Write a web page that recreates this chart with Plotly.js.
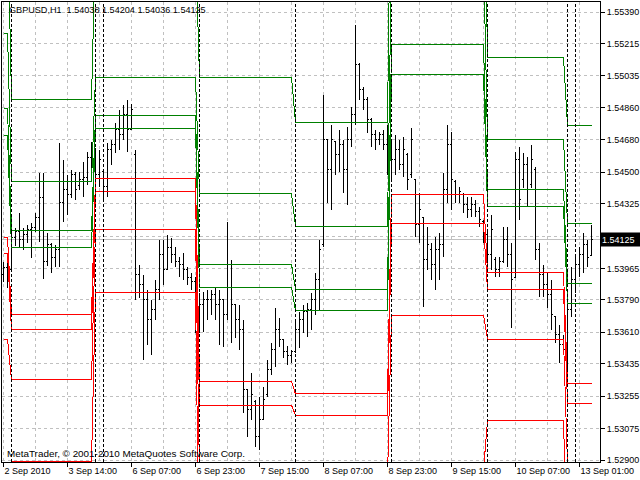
<!DOCTYPE html>
<html>
<head>
<meta charset="utf-8">
<script src="https://cdn.plot.ly/plotly-3.0.1.min.js"></script>
<style>
html,body{margin:0;padding:0;background:#fff;}
#chart{width:640px;height:480px;}
#chart svg path{shape-rendering:crispEdges;}
</style>
</head>
<body>
<div id="chart"></div>
<script>
// ---- data (GBPUSD H1) ----
const symbolName = "GBPUSD,H1";
const barOpen = [1.53929,1.53968,1.53957,1.54135,1.54168,1.54124,1.54151,1.54179,1.54190,1.54246,1.54357,1.54001,1.54096,1.54024,1.54068,1.54329,1.54401,1.54374,1.54485,1.54424,1.54457,1.54468,1.54579,1.54624,1.54485,1.54501,1.54418,1.54624,1.54651,1.54735,1.54707,1.54818,1.54735,1.54596,1.53929,1.53874,1.53790,1.53679,1.53735,1.53846,1.54040,1.53957,1.54079,1.54040,1.54001,1.53985,1.53957,1.53913,1.53890,1.53679,1.53763,1.53790,1.53790,1.53818,1.53763,1.53790,1.53707,1.53985,1.53763,1.53679,1.53624,1.53290,1.53179,1.53224,1.53029,1.53124,1.53263,1.53401,1.53513,1.53624,1.53568,1.53501,1.53479,1.53501,1.53624,1.53679,1.53724,1.53735,1.53790,1.53901,1.54096,1.54679,1.54513,1.54668,1.54596,1.54651,1.54513,1.54679,1.54818,1.55096,1.54957,1.54901,1.54790,1.54707,1.54679,1.54707,1.54651,1.54624,1.54568,1.54624,1.54540,1.54596,1.54485,1.54457,1.54207,1.54246,1.54013,1.54068,1.53985,1.54068,1.54096,1.54401,1.54651,1.54446,1.54374,1.54374,1.54318,1.54290,1.54318,1.54279,1.54224,1.54151,1.54040,1.54013,1.53957,1.54001,1.54124,1.54040,1.53913,1.54568,1.54457,1.54540,1.54429,1.54513,1.54068,1.53929,1.53874,1.53818,1.53696,1.53596,1.53540,1.53513,1.53735,1.53901,1.53985,1.54040,1.54096,1.54038];
const barHigh = [1.54001,1.53996,1.54179,1.54190,1.54274,1.54190,1.54207,1.54218,1.54274,1.54496,1.54496,1.54163,1.54107,1.54096,1.54663,1.54568,1.54485,1.54513,1.54501,1.54501,1.54557,1.54613,1.54668,1.54635,1.54624,1.54513,1.54663,1.54679,1.54774,1.54846,1.54874,1.54901,1.54879,1.54624,1.53985,1.53929,1.53846,1.53790,1.53901,1.54124,1.54124,1.54151,1.54135,1.54085,1.54029,1.54051,1.53974,1.53940,1.53918,1.53829,1.53835,1.53846,1.53846,1.53863,1.53846,1.53790,1.54224,1.54013,1.53763,1.53763,1.53679,1.53290,1.53385,1.53235,1.53251,1.53307,1.53457,1.53551,1.53746,1.53690,1.53568,1.53535,1.53513,1.53679,1.53724,1.53763,1.53774,1.53829,1.53940,1.54124,1.54929,1.54679,1.54763,1.54668,1.54735,1.54679,1.54751,1.54863,1.55318,1.55107,1.54974,1.54918,1.54801,1.54735,1.54724,1.54735,1.54763,1.54679,1.54707,1.54679,1.54696,1.54607,1.54746,1.54457,1.54385,1.54251,1.54196,1.54107,1.54140,1.54163,1.54496,1.54763,1.54724,1.54457,1.54418,1.54385,1.54363,1.54363,1.54346,1.54307,1.54235,1.54179,1.54263,1.54029,1.54029,1.54196,1.54196,1.54107,1.54613,1.54640,1.54607,1.54585,1.54651,1.54529,1.54107,1.53985,1.53946,1.53901,1.53696,1.53651,1.53596,1.53790,1.53974,1.54029,1.54085,1.54163,1.54124,1.54204];
const barLow = [1.53890,1.53857,1.53946,1.54090,1.54085,1.54068,1.54107,1.54024,1.54168,1.54113,1.53907,1.53979,1.53940,1.53974,1.53974,1.54224,1.54263,1.54357,1.54346,1.54401,1.54363,1.54429,1.54474,1.54401,1.54418,1.54346,1.54363,1.54540,1.54607,1.54624,1.54679,1.54613,1.54735,1.53790,1.53801,1.53457,1.53540,1.53485,1.53679,1.53790,1.53874,1.53957,1.53996,1.53974,1.53918,1.53901,1.53874,1.53846,1.53607,1.53607,1.53613,1.53679,1.53707,1.53679,1.53540,1.53529,1.53679,1.53551,1.53579,1.53513,1.53163,1.53029,1.53124,1.52974,1.52957,1.53124,1.53251,1.53374,1.53418,1.53529,1.53468,1.53429,1.53440,1.53496,1.53524,1.53607,1.53585,1.53624,1.53707,1.53735,1.54085,1.54329,1.54290,1.54485,1.54501,1.54385,1.54318,1.54640,1.54763,1.54901,1.54846,1.54718,1.54640,1.54624,1.54651,1.54624,1.54485,1.54457,1.54485,1.54513,1.54474,1.54401,1.54468,1.54140,1.54107,1.53751,1.53957,1.53901,1.53846,1.53901,1.54029,1.54329,1.54290,1.54329,1.54329,1.54274,1.54246,1.54251,1.54251,1.54196,1.54107,1.53957,1.53957,1.53918,1.53918,1.53996,1.53974,1.53635,1.53913,1.54235,1.54413,1.54307,1.54413,1.54013,1.53807,1.53807,1.53746,1.53624,1.53551,1.53440,1.53485,1.53307,1.53696,1.53829,1.53918,1.53940,1.53974,1.54036];
const barClose = [1.53968,1.53924,1.54135,1.54168,1.54124,1.54151,1.54179,1.54190,1.54246,1.54357,1.54001,1.54096,1.54024,1.54068,1.54329,1.54401,1.54374,1.54485,1.54401,1.54457,1.54468,1.54579,1.54624,1.54485,1.54568,1.54418,1.54624,1.54651,1.54735,1.54707,1.54818,1.54735,1.54846,1.53929,1.53874,1.53790,1.53679,1.53735,1.53846,1.54040,1.53957,1.54079,1.54040,1.54001,1.53985,1.53957,1.53913,1.53890,1.53679,1.53763,1.53790,1.53790,1.53818,1.53763,1.53790,1.53707,1.53985,1.53763,1.53679,1.53624,1.53290,1.53179,1.53263,1.53029,1.53124,1.53235,1.53401,1.53513,1.53624,1.53568,1.53501,1.53479,1.53501,1.53624,1.53679,1.53724,1.53735,1.53790,1.53901,1.54068,1.54679,1.54513,1.54679,1.54596,1.54651,1.54513,1.54679,1.54818,1.55096,1.54957,1.54901,1.54790,1.54707,1.54679,1.54707,1.54651,1.54624,1.54568,1.54624,1.54540,1.54624,1.54457,1.54679,1.54207,1.54290,1.54013,1.54096,1.53985,1.54068,1.54096,1.54401,1.54651,1.54457,1.54374,1.54390,1.54318,1.54290,1.54318,1.54279,1.54235,1.54151,1.54040,1.54179,1.53957,1.54001,1.54124,1.54040,1.53901,1.54568,1.54346,1.54540,1.54401,1.54568,1.54068,1.53929,1.53874,1.53818,1.53707,1.53596,1.53540,1.53513,1.53735,1.53901,1.53985,1.54040,1.54096,1.54024,1.54125];

// pivot-style daily levels (one value per session segment)
const segStart = [0, 2, 23, 49, 73, 97, 121, 141];
const segEnd   = [1, 22, 48, 72, 96, 120, 140, 147];
const levelR4 = [1.55968, 1.54905, 1.55790, 1.55027, 1.54777, 1.56529, 1.55138, 1.54760];
const levelR3 = [1.55273, 1.54447, 1.55027, 1.54382, 1.54199, 1.55718, 1.54683, 1.54217];
const levelR2 = [1.54851, 1.54173, 1.54816, 1.53988, 1.53850, 1.55211, 1.54405, 1.53882];
const levelR1 = [1.54706, 1.54082, 1.54744, 1.53860, 1.53732, 1.55044, 1.54310, 1.53771];
const levelS1 = [1.54139, 1.53710, 1.54464, 1.53337, 1.53267, 1.54378, 1.53943, 1.53326];
const levelS2 = [1.54049, 1.53623, 1.54390, 1.53204, 1.53149, 1.54212, 1.53849, 1.53215];
const levelS3 = [1.53571, 1.53345, 1.54182, 1.52815, 1.52800, 1.53704, 1.53571, 1.52880];
const levelS4 = [1.52878, 1.52891, 1.53832, 1.52172, 1.52222, 1.52844, 1.53117, 1.52339];

// vertical dotted separators (bar index)
const separatorBars = [2, 23, 25, 49, 73, 97, 121, 141, 143];

// axes
const xTickBars = [0, 16, 32, 48, 64, 80, 96, 112, 128, 144];
const xTickLabels = ["2 Sep 2010", "3 Sep 14:00", "6 Sep 07:00", "6 Sep 23:00", "7 Sep 15:00", "8 Sep 07:00", "8 Sep 23:00", "9 Sep 15:00", "10 Sep 07:00", "13 Sep 01:00"];
const xGridBars = [8, 24, 40, 56, 72, 88, 104, 120, 136];
const yTickValues = [1.55390, 1.55215, 1.55035, 1.54860, 1.54680, 1.54500, 1.54325, 1.54145, 1.53965, 1.53790, 1.53610, 1.53435, 1.53255, 1.53075, 1.52900];
const yTickLabels = ["1.55390", "1.55215", "1.55035", "1.54860", "1.54680", "1.54500", "1.54325", "1.54145", "1.53965", "1.53790", "1.53610", "1.53435", "1.53255", "1.53075", "1.52900"];
const priceRange = [1.528889, 1.554456];
const barRange = [-0.375, 149.125];
const copyrightText = "MetaTrader, \u00a9 2001-2010 MetaQuotes Software Corp.";

// ---- build ----
const barIndex = barClose.map((_, i) => i);
const last = barClose.length - 1;
const fmt = v => v.toFixed(5);
const FONT = "'Liberation Sans', Arial, sans-serif";
const GRID = '#c0c0c0';

const traces = [{
  type: 'ohlc',
  x: barIndex, open: barOpen, high: barHigh, low: barLow, close: barClose,
  increasing: {line: {color: '#000000', width: 1}},
  decreasing: {line: {color: '#000000', width: 1}},
  tickwidth: 0.45,
  hoverinfo: 'skip'
}];

function levelTrace(vals, color) {
  const x = [], y = [];
  for (let k = 0; k < vals.length; k++) {
    x.push(segStart[k], segEnd[k]);
    y.push(vals[k], vals[k]);
  }
  return {type: 'scatter', mode: 'lines', x, y, line: {color, width: 1}, hoverinfo: 'skip'};
}
[levelR4, levelR3, levelR2, levelR1].forEach(v => traces.push(levelTrace(v, '#008000')));
[levelS1, levelS2, levelS3, levelS4].forEach(v => traces.push(levelTrace(v, '#ff0000')));

const shapes = [{
  type: 'line', xref: 'paper', x0: 0, x1: 1, yref: 'y', y0: barClose[last], y1: barClose[last],
  line: {color: GRID, width: 1}, layer: 'below'
}];
separatorBars.forEach(b => shapes.push({
  type: 'line', xref: 'x', x0: b, x1: b, yref: 'paper', y0: 0, y1: 1,
  line: {color: '#000000', width: 1, dash: '3px,2px'}
}));

const layout = {
  width: 640, height: 480,
  margin: {l: 2, r: 40, t: 2, b: 18, pad: 0, autoexpand: false},
  paper_bgcolor: '#ffffff', plot_bgcolor: '#ffffff',
  showlegend: false,
  font: {family: FONT, size: 9, color: '#000000'},
  xaxis: {
    range: barRange, type: 'linear', automargin: false,
    tickmode: 'array', tickvals: xTickBars, ticktext: xTickLabels,
    tickangle: 0, tickfont: {family: FONT, size: 9, color: '#000000'},
    ticks: 'outside', ticklen: 4, tickcolor: '#000000', tickwidth: 1,
    ticklabelposition: 'outside right', ticklabeloverflow: 'allow',
    showgrid: true, gridcolor: GRID, griddash: '3px,3px', gridwidth: 1,
    minor: {tickmode: 'array', tickvals: xGridBars, showgrid: true, gridcolor: GRID, griddash: '3px,3px', gridwidth: 1, ticklen: 0},
    showline: true, linecolor: '#000000', linewidth: 1, mirror: true,
    zeroline: false, fixedrange: true,
    rangeslider: {visible: false}
  },
  yaxis: {
    range: priceRange, side: 'right', automargin: false,
    tickmode: 'array', tickvals: yTickValues, ticktext: yTickLabels,
    tickangle: 0, tickfont: {family: FONT, size: 9, color: '#000000'},
    ticklabeloverflow: 'allow',
    ticks: 'outside', ticklen: 4, tickcolor: '#000000', tickwidth: 1,
    showgrid: true, gridcolor: GRID, griddash: '3px,3px', gridwidth: 1,
    showline: true, linecolor: '#000000', linewidth: 1, mirror: true,
    zeroline: false, fixedrange: true
  },
  shapes,
  annotations: [
    {
      xref: 'paper', yref: 'paper', x: 0, y: 1, xanchor: 'left', yanchor: 'top',
      xshift: 5, yshift: -1, showarrow: false,
      text: symbolName + '\u00a0\u00a0' + [barOpen[last], barHigh[last], barLow[last], barClose[last]].map(fmt).join('\u00a0'),
      font: {family: FONT, size: 9.1, color: '#000000'}
    },
    {
      xref: 'paper', yref: 'paper', x: 0, y: 0, xanchor: 'left', yanchor: 'bottom',
      xshift: 3, yshift: 1, showarrow: false, text: copyrightText,
      font: {family: FONT, size: 9.9, color: '#000000'}
    },
    {
      xref: 'paper', yref: 'y', x: 1, y: barClose[last], xanchor: 'left', yanchor: 'middle',
      xshift: 0, showarrow: false, text: fmt(barClose[last]),
      bgcolor: '#000000', borderpad: 1, width: 38, height: 11, align: 'left',
      font: {family: FONT, size: 9, color: '#ffffff'}
    }
  ]
};

Plotly.newPlot('chart', traces, layout, {staticPlot: true, displayModeBar: false});
</script>
</body>
</html>
